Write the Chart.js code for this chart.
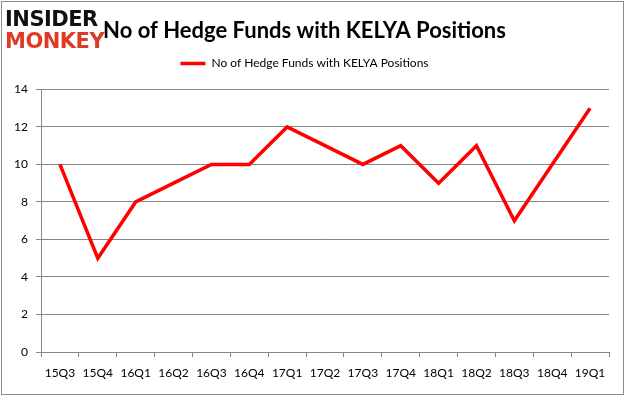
<!DOCTYPE html>
<html>
<head>
<meta charset="utf-8">
<script src="https://cdn.jsdelivr.net/npm/chart.js@4"></script>
<style>
  body { margin: 0; background: #fff; }
  #wrap { position: relative; width: 626px; height: 397px; }
  #frame { position: absolute; left: 1px; top: 1px; width: 621px; height: 392px; border: 1px solid #8c8c8c; pointer-events: none; }
  #logo { position: absolute; left: 5px; top: 8px; font-family: 'DejaVu Sans', sans-serif; font-weight: bold; font-size: 21px; line-height: 22px; letter-spacing: -0.5px; }
  #logo .a { color: #111; }
  #logo .b { color: #dd3b26; }
</style>
</head>
<body>
<div id="wrap">
  <canvas id="hedgeChart" width="626" height="397"></canvas>
  <div id="logo"><div class="a">INSIDER</div><div class="b">MONKEY</div></div>
  <div id="frame"></div>
</div>
<script>
// chart data
const quarters = ['15Q3', '15Q4', '16Q1', '16Q2', '16Q3', '16Q4', '17Q1', '17Q2', '17Q3', '17Q4', '18Q1', '18Q2', '18Q3', '18Q4', '19Q1'];
const fundCounts = [10, 5, 8, 9, 10, 10, 12, 11, 10, 11, 9, 11, 7, 10, 13];
const yTicks = [0, 2, 4, 6, 8, 10, 12, 14];

const titleText = 'No of Hedge Funds with KELYA Positions';
const gridColor = '#868686';

// give the legend some extra room underneath
const legendSpacer = {
  id: 'legendSpacer',
  beforeInit(chart) {
    const origFit = chart.legend.fit;
    chart.legend.fit = function fit() {
      origFit.bind(chart.legend)();
      this.height += 10;
    };
  },
};

const ctx = document.getElementById('hedgeChart').getContext('2d');

const hedgeChart = new Chart(ctx, {
  type: 'line',
  data: {
    labels: quarters,
    datasets: [
      {
        label: titleText,
        data: fundCounts,
        borderColor: '#ff0000',
        backgroundColor: '#ff0000',
        borderWidth: 3.5,
        pointRadius: 0,
        tension: 0,
        fill: false,
      },
    ],
  },
  plugins: [legendSpacer],
  options: {
    responsive: false,
    animation: false,
    layout: {
      padding: { left: 0, right: 17, top: 0, bottom: 0 },
    },
    plugins: {
      title: {
        display: true,
        text: titleText,
        color: '#000',
        font: { family: 'Lato', size: 22, weight: 'bold' },
        padding: { top: 18, bottom: 3 },
      },
      legend: {
        position: 'top',
        align: 'center',
        labels: {
          color: '#000',
          font: { family: 'Lato', size: 12 },
          usePointStyle: true,
          pointStyle: 'line',
          pointStyleWidth: 25,
          boxHeight: 12,
          padding: 10,
        },
      },
      tooltip: { enabled: false },
    },
    scales: {
      x: {
        offset: true,
        grid: {
          offset: true,
          drawOnChartArea: false,
          drawTicks: true,
          tickLength: 5,
          color: gridColor,
        },
        border: { display: true, color: gridColor },
        ticks: {
          color: '#000',
          font: { family: 'Lato', size: 12 },
          padding: 9,
          maxRotation: 0,
          autoSkip: false,
        },
        afterFit: (scale) => { scale.height = 45; },
      },
      y: {
        min: 0,
        max: 14,
        afterBuildTicks: (scale) => { scale.ticks = yTicks.map((v) => ({ value: v })); },
        grid: {
          color: gridColor,
          tickLength: 5,
        },
        border: { display: true, color: gridColor },
        ticks: {
          color: '#000',
          font: { family: 'Lato', size: 12 },
          padding: 8,
        },
        afterFit: (scale) => { scale.width = 41; },
      },
    },
  },
});
</script>
</body>
</html>
